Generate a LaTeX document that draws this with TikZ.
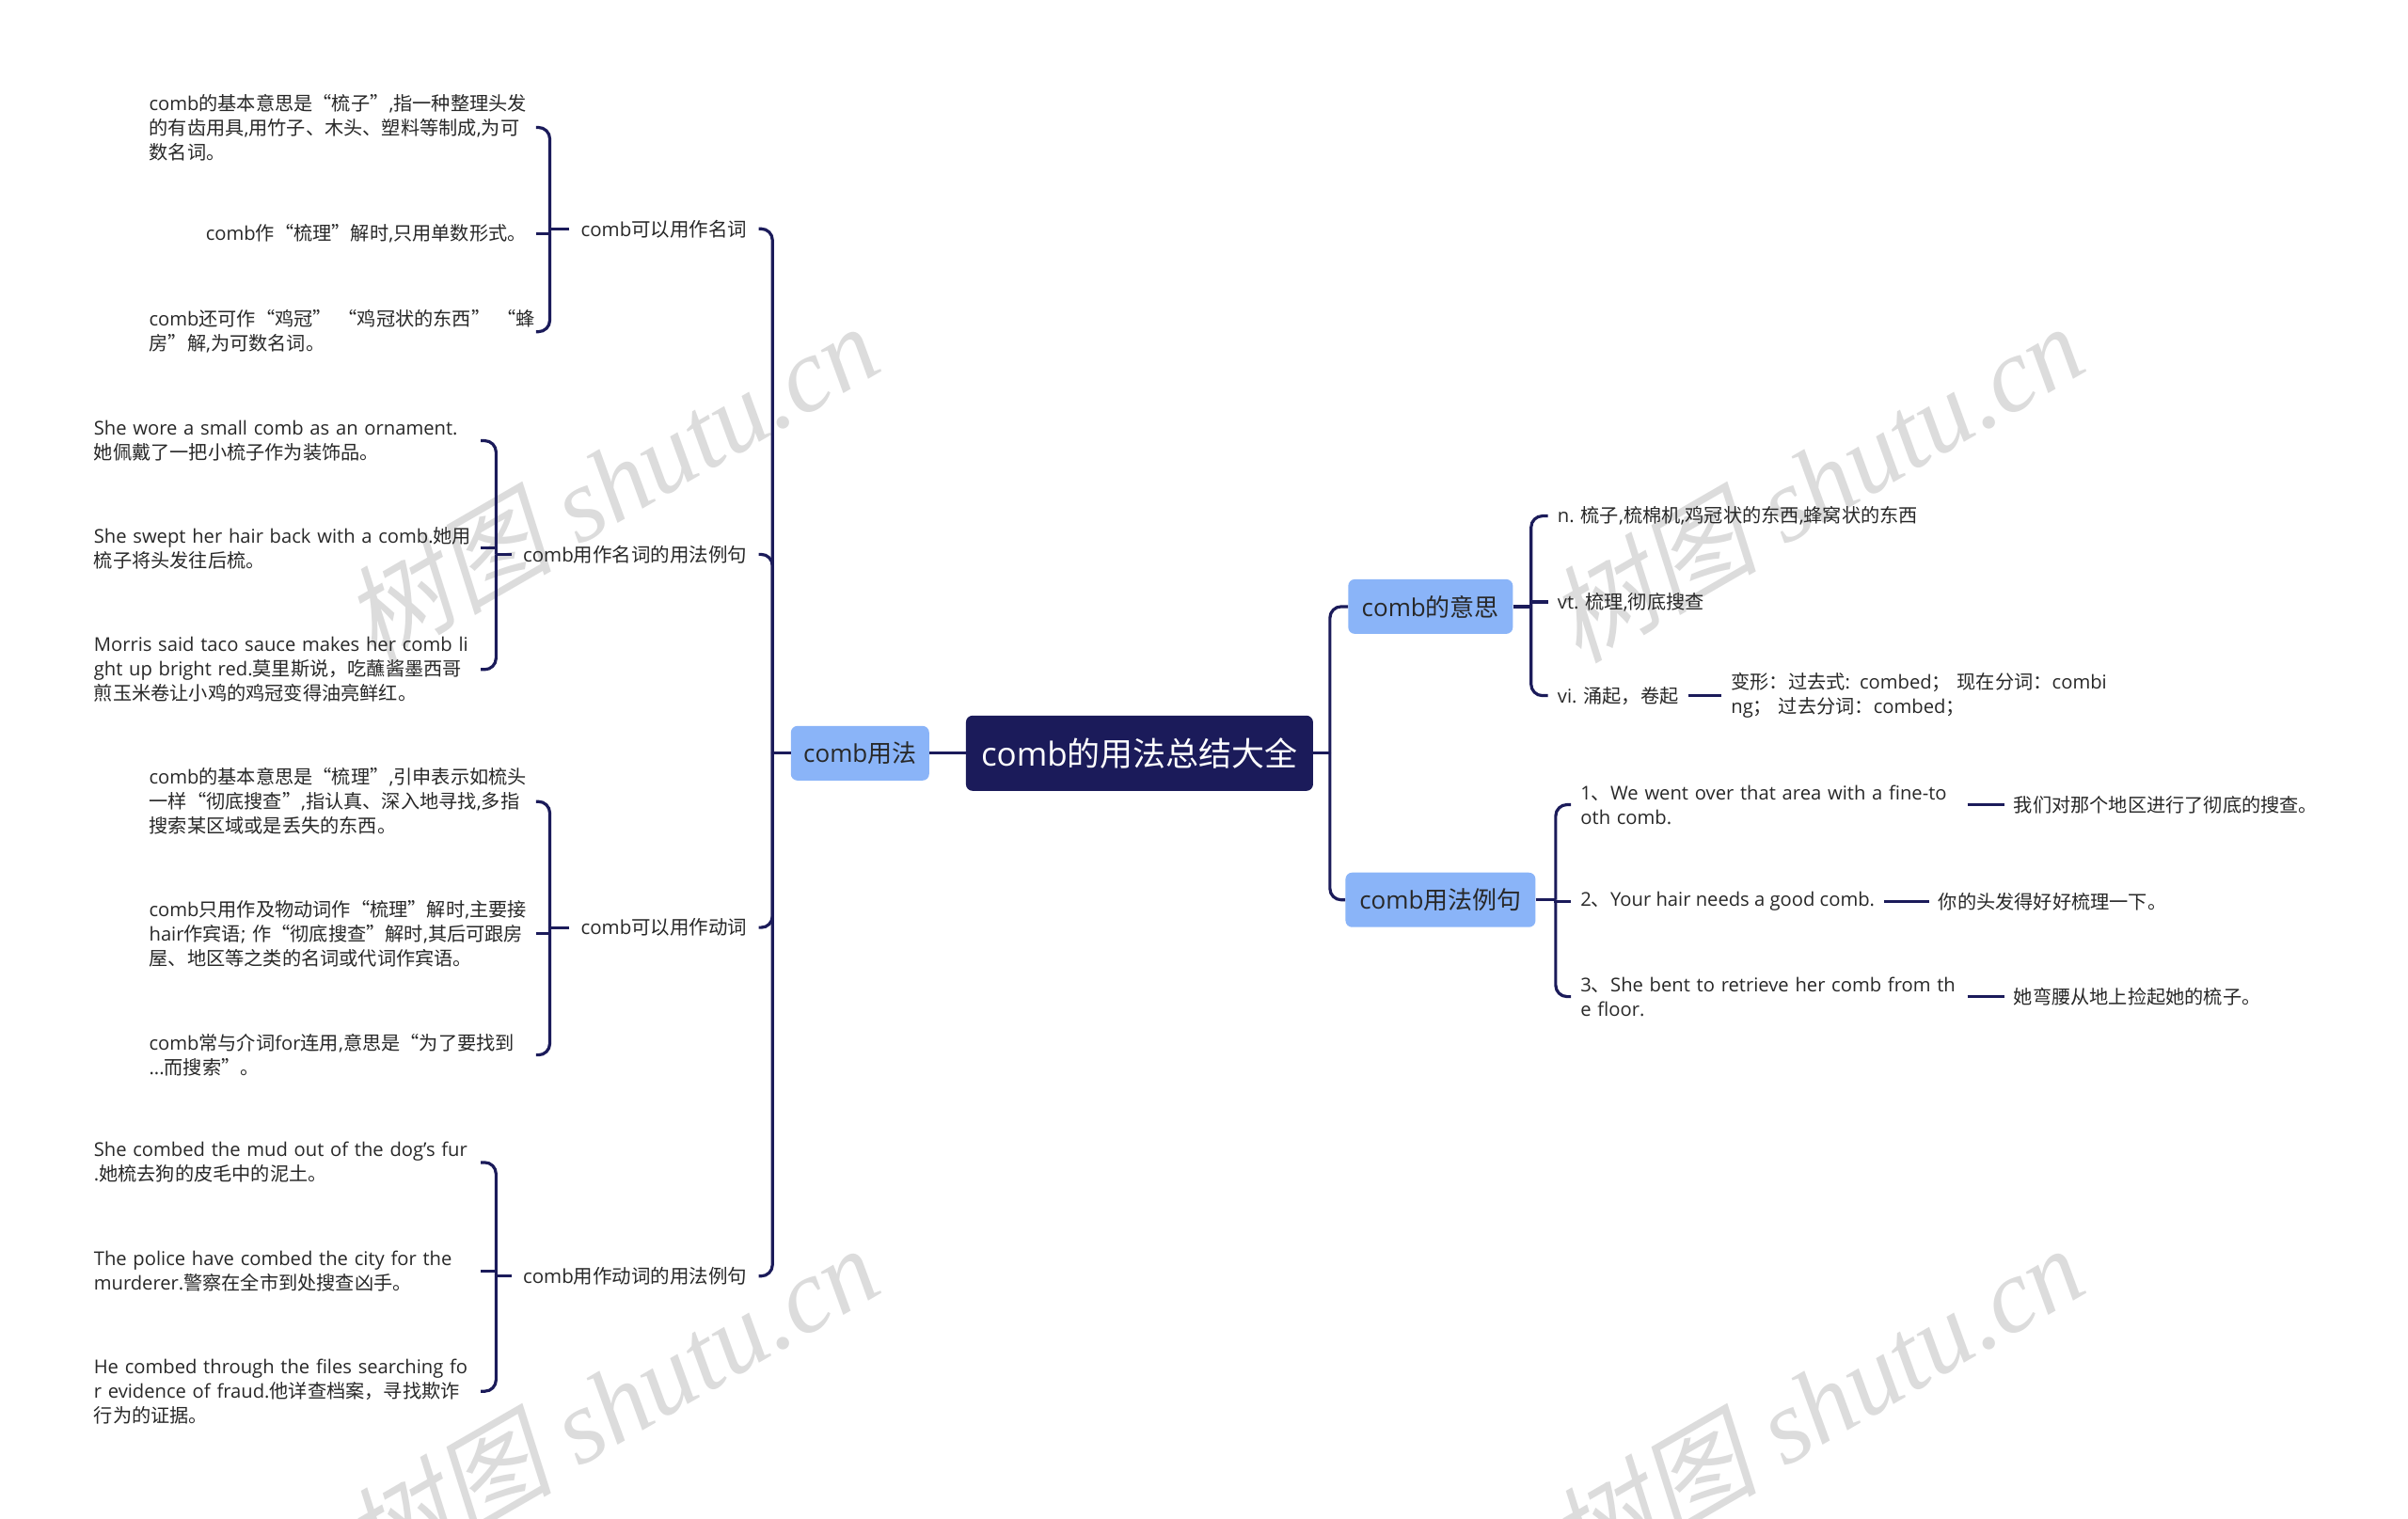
\documentclass[tikz,border=0pt]{standalone}
\usepackage{fontspec}
\setmainfont{Open Sans}
\newfontfamily\cjk{Noto Sans CJK SC}
\newfontfamily\wmcjk[FakeSlant=0.22]{Noto Sans CJK SC}
\newfontfamily\wmlat{Liberation Serif}
% automatic switch to the CJK font
\XeTeXinterchartokenstate=1
\newXeTeXintercharclass\CJKcls
\newcount\cjkc
\cjkc=0
\loop\ifnum\cjkc<"10000 \XeTeXcharclass\cjkc=0 \advance\cjkc 1 \repeat
\cjkc="2E80
\loop\ifnum\cjkc<"A000 \XeTeXcharclass\cjkc=\CJKcls \advance\cjkc 1 \repeat
\cjkc="FF00
\loop\ifnum\cjkc<"FFF0 \XeTeXcharclass\cjkc=\CJKcls \advance\cjkc 1 \repeat
\XeTeXcharclass"201C=\CJKcls
\XeTeXcharclass"201D=\CJKcls
\XeTeXinterchartoks 0 \CJKcls={\begingroup\cjk}
\XeTeXinterchartoks 4095 \CJKcls={\begingroup\cjk}
\XeTeXinterchartoks \CJKcls 0={\endgroup}
\XeTeXinterchartoks \CJKcls 4095={\endgroup}
\newcommand\LL[1]{\mbox{#1}}
\definecolor{navy}{RGB}{27,27,90}
\definecolor{lblue}{RGB}{138,180,248}
\definecolor{wmgray}{RGB}{220,220,220}
\definecolor{txt}{RGB}{40,40,40}
\tikzset{
  conn/.style={draw=navy, line width=3.2pt},
  hook/.style={conn, rounded corners=12pt},
  rootbox/.style={fill=navy, text=white, rounded corners=7pt, minimum width=369pt, minimum height=80pt, inner sep=0pt, font=\fontsize{35}{42}\selectfont},
  topic/.style={fill=lblue, text=txt, rounded corners=7pt, inner sep=0pt, minimum height=58pt, font=\fontsize{26}{30}\selectfont},
  subtopic/.style={inner xsep=12pt, inner ysep=3pt, text=txt, font=\fontsize{20.5}{26}\selectfont},
  leaf/.style={inner xsep=10pt, inner ysep=3pt, align=left, text=txt, font=\fontsize{20.2}{26}\selectfont},
  wrap/.style={leaf, text width=401pt},
  wmark/.style={text=wmgray, rotate=30, inner sep=0pt, font=\fontsize{112}{120}\selectfont}
}
\begin{document}
\begin{tikzpicture}[x=1.6327pt, y=-1.6327pt]
\useasboundingbox (0,0) rectangle (1568,989);
\fill[white] (0,0) rectangle (1568,989);
% watermarks
\node[wmark] (w1) at (397,314) {\XeTeXinterchartokenstate=0 \wmcjk 树图\hspace{0.25em}\wmlat\itshape shutu.cn};
\node[wmark] (w2) at (1182,314) {\XeTeXinterchartokenstate=0 \wmcjk 树图\hspace{0.25em}\wmlat\itshape shutu.cn};
\node[wmark] (w3) at (397,914) {\XeTeXinterchartokenstate=0 \wmcjk 树图\hspace{0.25em}\wmlat\itshape shutu.cn};
\node[wmark] (w4) at (1182,914) {\XeTeXinterchartokenstate=0 \wmcjk 树图\hspace{0.25em}\wmlat\itshape shutu.cn};

% main nodes
\node[rootbox] (root) at (742,490.5) {comb的用法总结大全};
\node[topic, minimum width=147pt] (usage) at (560,490.5) {comb用法};
\node[topic, minimum width=175pt] (mean) at (931.5,395) {comb的意思};
\node[topic, minimum width=202pt] (ex) at (938,586) {comb用法例句};
\coordinate (ls) at (503,490.5);
\coordinate (rs) at (866,490.5);

% left subtopics
\node[subtopic, anchor=east] (n1) at (494,149) {comb可以用作名词};
\node[subtopic, anchor=east] (n2) at (494,361) {comb用作名词的用法例句};
\node[subtopic, anchor=east] (n3) at (494,604) {comb可以用作动词};
\node[subtopic, anchor=east] (n4) at (494,831) {comb用作动词的用法例句};
\coordinate (b1) at (358,149);
\coordinate (b2) at (323,361);
\coordinate (b3) at (358,604);
\coordinate (b4) at (323,831);

% group 1
\node[wrap, anchor=east] (a1) at (349,83) {\LL{comb的基本意思是“梳子”,指一种整理头发}\\\LL{的有齿用具,用竹子、木头、塑料等制成,为可}\\\LL{数名词。}};
\node[leaf, anchor=east] (a2) at (349,152) {comb作“梳理”解时,只用单数形式。};
\node[wrap, anchor=east] (a3) at (349,216) {\LL{comb还可作“鸡冠” “鸡冠状的东西” “蜂}\\\LL{房”解,为可数名词。}};
% group 2
\node[wrap, anchor=east] (c1) at (313,287) {\LL{She wore a small comb as an ornament.}\\\LL{她佩戴了一把小梳子作为装饰品。}};
\node[wrap, anchor=east] (c2) at (313,357) {\LL{She swept her hair back with a comb.她用}\\\LL{梳子将头发往后梳。}};
\node[wrap, anchor=east] (c3) at (313,436) {\LL{Morris said taco sauce makes her comb li}\\\LL{ght up bright red.莫里斯说，吃蘸酱墨西哥}\\\LL{煎玉米卷让小鸡的鸡冠变得油亮鲜红。}};
% group 3
\node[wrap, anchor=east] (d1) at (349,522) {\LL{comb的基本意思是“梳理”,引申表示如梳头}\\\LL{一样“彻底搜查”,指认真、深入地寻找,多指}\\\LL{搜索某区域或是丢失的东西。}};
\node[wrap, anchor=east] (d2) at (349,608) {\LL{comb只用作及物动词作“梳理”解时,主要接}\\\LL{hair作宾语; 作“彻底搜查”解时,其后可跟房}\\\LL{屋、地区等之类的名词或代词作宾语。}};
\node[wrap, anchor=east] (d3) at (349,687) {\LL{comb常与介词for连用,意思是“为了要找到}\\\LL{...而搜索”。}};
% group 4
\node[wrap, anchor=east] (e1) at (313,757) {\LL{She combed the mud out of the dog's fur}\\\LL{.她梳去狗的皮毛中的泥土。}};
\node[wrap, anchor=east] (e2) at (313,828) {\LL{The police have combed the city for the}\\\LL{murderer.警察在全市到处搜查凶手。}};
\node[wrap, anchor=east] (e3) at (313,906) {\LL{He combed through the files searching fo}\\\LL{r evidence of fraud.他详查档案，寻找欺诈}\\\LL{行为的证据。}};

% right: meaning
\coordinate (bm) at (997,395);
\node[leaf, anchor=west] (m1) at (1008,336) {n. 梳子,梳棉机,鸡冠状的东西,蜂窝状的东西};
\node[leaf, anchor=west] (m2) at (1008,392) {vt. 梳理,彻底搜查};
\node[leaf, anchor=west] (m3) at (1008,453) {vi. 涌起，卷起};
\node[wrap, anchor=west] (m3b) at (1121,453) {\LL{变形：过去式: combed；\ 现在分词：combi}\\\LL{ng；\ 过去分词：combed；}};

% right: examples
\coordinate (bx) at (1013,586);
\node[wrap, anchor=west] (x1) at (1023,524) {\LL{1、We went over that area with a fine-to}\\\LL{oth comb.}};
\node[leaf, anchor=west] (x2) at (1023,587) {2、Your hair needs a good comb.};
\node[wrap, anchor=west] (x3) at (1023,649) {\LL{3、She bent to retrieve her comb from th}\\\LL{e floor.}};
\node[leaf, anchor=west] (t1) at (1305,524) {我们对那个地区进行了彻底的搜查。};
\node[leaf, anchor=west] (t2) at (1256,587) {你的头发得好好梳理一下。};
\node[leaf, anchor=west] (t3) at (1305,649) {她弯腰从地上捡起她的梳子。};

% connectors: centre
\draw[conn] (root.west) -- (usage.east);
\draw[conn] (usage.west) -- (ls);
\draw[conn] (root.east) -- (rs);
\draw[hook] (ls) |- (n1.east);
\draw[hook] (ls) |- (n2.east);
\draw[hook] (ls) |- (n3.east);
\draw[hook] (ls) |- (n4.east);
\draw[hook] (rs) |- (mean.west);
\draw[hook] (rs) |- (ex.west);
% group brackets
\draw[conn] (n1.west) -- (b1);
\draw[hook] (b1) |- (a1.east);
\draw[conn] (b1) |- (a2.east);
\draw[hook] (b1) |- (a3.east);
\draw[conn] (n2.west) -- (b2);
\draw[hook] (b2) |- (c1.east);
\draw[conn] (b2) |- (c2.east);
\draw[hook] (b2) |- (c3.east);
\draw[conn] (n3.west) -- (b3);
\draw[hook] (b3) |- (d1.east);
\draw[conn] (b3) |- (d2.east);
\draw[hook] (b3) |- (d3.east);
\draw[conn] (n4.west) -- (b4);
\draw[hook] (b4) |- (e1.east);
\draw[conn] (b4) |- (e2.east);
\draw[hook] (b4) |- (e3.east);
\draw[conn] (mean.east) -- (bm);
\draw[hook] (bm) |- (m1.west);
\draw[conn] (bm) |- (m2.west);
\draw[hook] (bm) |- (m3.west);
\draw[conn] (m3.east) -- (m3b.west);
\draw[conn] (ex.east) -- (bx);
\draw[hook] (bx) |- (x1.west);
\draw[conn] (bx) |- (x2.west);
\draw[hook] (bx) |- (x3.west);
\draw[conn] (x1.east) -- (t1.west);
\draw[conn] (x2.east) -- (t2.west);
\draw[conn] (x3.east) -- (t3.west);
\end{tikzpicture}
\end{document}
